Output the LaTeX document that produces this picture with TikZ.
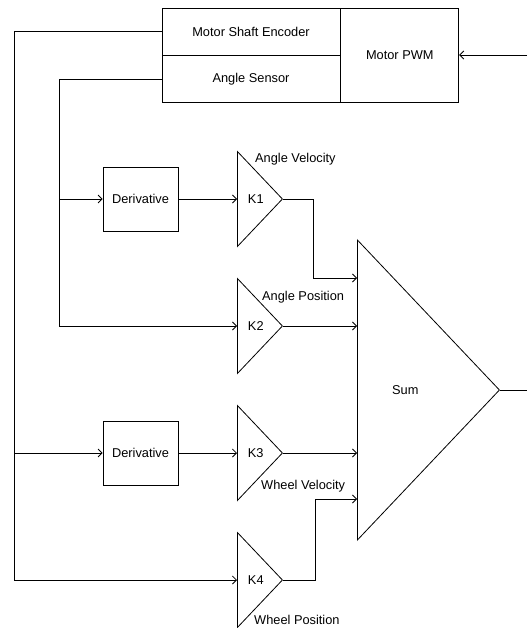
\documentclass[tikz,border=0pt]{standalone}
\usepackage{fontspec}
\setmainfont{Liberation Sans}
\usepackage{tikz}
\usetikzlibrary{positioning}
\usetikzlibrary{shapes.geometric, arrows.meta}
\tikzstyle{block} = [rectangle, draw=black, line width=0.8pt, inner sep=0pt, text centered]
\tikzstyle{gain} = [isosceles triangle, isosceles triangle stretches, draw=black, line width=0.8pt, minimum width=95pt, minimum height=45pt, inner sep=0pt, anchor=lower side]
\tikzstyle{adder} = [gain, minimum width=300pt, minimum height=142pt]
\tikzstyle{tag} = [anchor=west, inner sep=0pt]
\tikzstyle{wire} = [line width=0.8pt]
\tikzstyle{signal} = [wire, ->, >={Straight Barb[length=4pt,width=8pt]}]

\begin{document}
\begin{tikzpicture}[x=1pt, y=-1pt, font=\fontsize{12.8}{15}\selectfont]
	\useasboundingbox (0,0) rectangle (527,628);
	\node (enc)[block, minimum width=178pt, minimum height=47pt] at (251,31.5) {Motor Shaft Encoder};
	\node (sensor)[block, minimum width=178pt, minimum height=47pt, below=0pt of enc] {Angle Sensor};
	\node (pwm)[block, minimum width=118pt, minimum height=94pt, anchor=north west] at (enc.north east) {Motor PWM};
	\node (deriv1)[block, minimum width=75pt, minimum height=64pt] at (140.5,199) {Derivative};
	\node (deriv2)[block, minimum width=75pt, minimum height=64pt] at (140.5,453) {Derivative};
	\node (k1)[gain] at (237,199) {K1};
	\node (k2)[gain] at (237,326) {K2};
	\node (k3)[gain] at (237,453) {K3};
	\node (k4)[gain] at (237,580) {K4};
	\node (sum)[adder] at (357,390) {};
	\node (sumtext)[tag, right=35pt of sum.lower side] {Sum};
	\node (lav)[tag] at (255,159) {Angle Velocity};
	\node (lap)[tag] at (262,297) {Angle Position};
	\node (lwv)[tag] at (261,486) {Wheel Velocity};
	\node (lwp)[tag] at (254,620) {Wheel Position};
	\coordinate (in) at (527,55);
	\coordinate (out) at (527,390);
	\coordinate (busa) at (14,453);
	\coordinate (busb) at (59,199);
	\coordinate (sin1) at (357,278);
	\coordinate (sin4) at (357,499);
	\draw [signal] (in) -- (pwm);
	\draw [signal] (enc.west) -- (enc.west -| busa) |- (k4.lower side);
	\draw [signal] (busa) -- (deriv2);
	\draw [signal] (sensor.west) -- (sensor.west -| busb) |- (k2.lower side);
	\draw [signal] (busb) -- (deriv1);
	\draw [signal] (deriv1) -- (k1.lower side);
	\draw [signal] (deriv2) -- (k3.lower side);
	\draw [signal] (k1.apex) -- ++(30,0) |- (sin1);
	\draw [signal] (k2.apex) -- (k2.apex -| sum.lower side);
	\draw [signal] (k3.apex) -- (k3.apex -| sum.lower side);
	\draw [signal] (k4.apex) -- ++(32,0) |- (sin4);
	\draw [wire] (sum.apex) -- (out);
\end{tikzpicture}
\end{document}
